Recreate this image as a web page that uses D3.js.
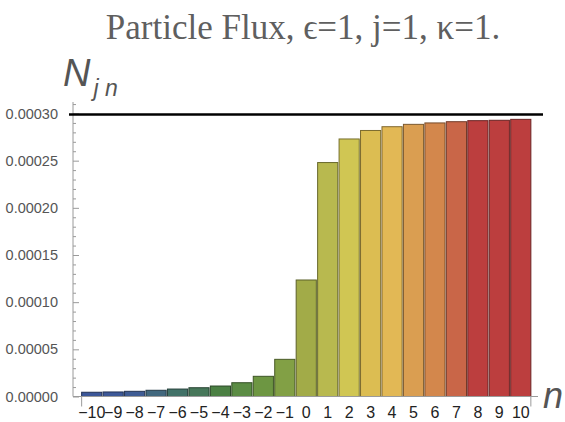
<!DOCTYPE html>
<html><head><meta charset="utf-8">
<script src="https://cdn.jsdelivr.net/npm/d3@7"></script>
<style>
html,body{margin:0;padding:0;background:#fff;}
svg{display:block;}
</style></head>
<body>
<svg id="c" width="565" height="422"></svg>
<script>
const categories = [-10,-9,-8,-7,-6,-5,-4,-3,-2,-1,0,1,2,3,4,5,6,7,8,9,10];
const values = [0.0000045,0.0000048,0.0000055,0.0000066,0.0000079,0.0000093,0.0000111,0.0000146,0.0000214,0.0000394,0.0001235,
  0.000248,0.000273,0.000282,0.000286,0.0002885,0.000290,0.0002913,0.0002924,0.0002928,0.0002938];
const barColors = ["#3c5799","#3d5897","#3f5c94","#42687e","#427268","#47775a","#4b8043","#5b8c44","#6d9642","#82a045","#a2ab48",
  "#b8b94f","#d0c653","#dcbd52","#e2b855","#da9e51","#d3874c","#c96648","#bc3e3e","#bc3e3e","#bc3e3e"];
const yTicks = [0,0.00005,0.0001,0.00015,0.0002,0.00025,0.0003];
const yTickLabels = ["0.00000","0.00005","0.00010","0.00015","0.00020","0.00025","0.00030"];
const refLine = 0.000299;
const titleText = "Particle Flux, \u03F5=1, j=1, \u03BA=1.";

const svg = d3.select("#c");
const axisColor = "#9a9a9a", textColor = "#555";

const x = d3.scaleBand().domain(categories).range([81,531.5]).paddingInner(0.06).paddingOuter(0.03);
const y = d3.scaleLinear().domain([0,0.0003]).range([396.5,113.5]);

// title
svg.append("text").attr("x",303).attr("y",39).attr("text-anchor","middle")
  .attr("font-family","'Liberation Serif','Times New Roman',serif").attr("font-size",35)
  .attr("fill","#5f5f5f").text(titleText);

// y label N_{j n}
const yl = svg.append("text").attr("x",63).attr("y",86)
  .attr("font-family","'Liberation Sans',Arial,sans-serif").attr("font-style","italic").attr("fill","#555");
yl.append("tspan").attr("font-size",38).text("N");
yl.append("tspan").attr("font-size",23).attr("dy",10).attr("dx",3).text("j n");

// bars
svg.append("g").selectAll("rect").data(categories).join("rect")
  .attr("x",d=>x(d)).attr("width",x.bandwidth())
  .attr("y",(d,i)=>y(values[i])).attr("height",(d,i)=>y(0)-y(values[i]))
  .attr("fill",(d,i)=>barColors[i])
  .attr("stroke",(d,i)=>d3.color(barColors[i]).darker(1.6))
  .attr("stroke-width",1);

// y axis
const yAxis = d3.axisRight(y).tickValues(yTicks).tickSize(6).tickFormat("");
const gy = svg.append("g").attr("transform","translate(73,0)").call(yAxis);
gy.select(".domain").remove();
gy.selectAll("line").attr("stroke",axisColor);
const minor = d3.range(0,32).map(k=>k*0.00001).filter(v=>Math.round(v*1e5*1000)%5000!==0);
const gm = svg.append("g").attr("transform","translate(73,0)")
  .call(d3.axisRight(y).tickValues(minor).tickSize(3).tickFormat(""));
gm.select(".domain").remove();
gm.selectAll("line").attr("stroke",axisColor);
svg.append("line").attr("x1",73).attr("x2",73).attr("y1",102).attr("y2",y(0)).attr("stroke",axisColor).attr("stroke-width",1);
svg.append("g").selectAll("text").data(yTicks).join("text")
  .attr("x",58).attr("y",d=>y(d)).attr("dy","0.35em").attr("text-anchor","end")
  .attr("font-family","'Liberation Sans',Arial,sans-serif").attr("font-size",14.5).attr("fill",textColor)
  .text((d,i)=>yTickLabels[i]);

// x axis
svg.append("line").attr("x1",73).attr("x2",538).attr("y1",y(0)).attr("y2",y(0)).attr("stroke",axisColor);
const edges = [x(categories[0]), x(categories[categories.length-1])+x.bandwidth()];
svg.append("g").selectAll("line").data(edges).join("line")
  .attr("x1",d=>d).attr("x2",d=>d).attr("y1",y(0)).attr("y2",y(0)+10).attr("stroke",axisColor);
svg.append("g").selectAll("text").data(categories).join("text")
  .attr("x",d=>x(d)+x.bandwidth()/2).attr("y",418).attr("text-anchor","middle")
  .attr("font-family","'Liberation Sans',Arial,sans-serif").attr("font-size",16).attr("fill","#222")
  .text(d=>d<0?"\u2212"+(-d):String(d));

// x label
svg.append("text").attr("x",543).attr("y",408)
  .attr("font-family","'Liberation Sans',Arial,sans-serif").attr("font-style","italic")
  .attr("font-size",36).attr("fill","#555").text("n");

// reference line
svg.append("line").attr("x1",69).attr("x2",543).attr("y1",y(refLine)).attr("y2",y(refLine))
  .attr("stroke","#000").attr("stroke-width",2.6);
</script>
</body></html>
